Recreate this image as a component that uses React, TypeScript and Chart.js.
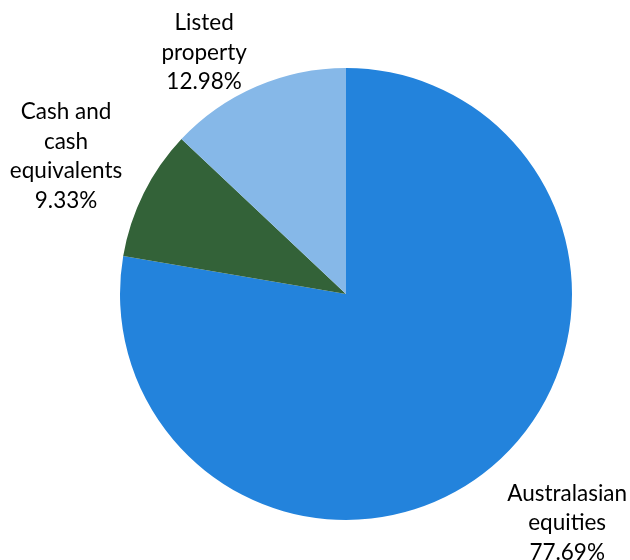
import React, { useEffect, useRef } from "react";
import { Chart, registerables } from "chart.js";

Chart.register(...registerables);

const categories: string[][] = [
  ["Australasian", "equities"],
  ["Cash and", "cash", "equivalents"],
  ["Listed", "property"],
];
const values: number[] = [77.69, 9.33, 12.98];
const colors: string[] = ["#2383DC", "#336238", "#86B8E8"];

const FONT = "22.5px Lato, 'Open Sans', sans-serif";
const LINE_H = 29.5;
const LABEL_GAP = 24;

const labelPlugin = {
  id: "outsideLabels",
  afterDraw(chart: any) {
    const ctx = chart.ctx as CanvasRenderingContext2D;
    const meta = chart.getDatasetMeta(0);
    ctx.save();
    ctx.font = FONT;
    ctx.fillStyle = "#000000";
    ctx.textBaseline = "middle";
    ctx.textAlign = "center";
    meta.data.forEach((arc: any, i: number) => {
      const { x, y, startAngle, endAngle, outerRadius } = arc.getProps(
        ["x", "y", "startAngle", "endAngle", "outerRadius"],
        true
      );
      const mid = (startAngle + endAngle) / 2;
      const c = Math.cos(mid);
      const s = Math.sin(mid);
      const ax = x + (outerRadius + LABEL_GAP) * c;
      const ay = y + (outerRadius + LABEL_GAP) * s;
      const lines = [...categories[i], values[i].toFixed(2) + "%"];
      const w = Math.max(...lines.map((l) => ctx.measureText(l).width));
      const h = lines.length * LINE_H;
      const cx = c < 0 ? ax - w / 2 : ax + w / 2;
      let cy = ay + (s * h) / 2 + (s > 0 ? 4 : 0);
      if (cy - h / 2 < 8) cy = 8 + h / 2;
      lines.forEach((l, k) => {
        ctx.fillText(l, cx, cy - h / 2 + LINE_H * (k + 0.5));
      });
    });
    ctx.restore();
  },
};

export default function App() {
  const ref = useRef<HTMLCanvasElement | null>(null);
  useEffect(() => {
    document.body.style.margin = "0";
    const chart = new Chart(ref.current as HTMLCanvasElement, {
      type: "pie",
      data: {
        labels: categories.map((c) => c.join(" ")),
        datasets: [
          {
            data: values,
            backgroundColor: colors,
            borderWidth: 0,
          },
        ],
      },
      options: {
        animation: false,
        responsive: false,
        layout: { padding: { left: 120, right: 58, top: 68, bottom: 40 } },
        plugins: {
          legend: { display: false },
          tooltip: { enabled: false },
        },
      },
      plugins: [labelPlugin],
    });
    return () => chart.destroy();
  }, []);
  return (
    <div style={{ width: 630, height: 560, background: "#fff" }}>
      <canvas ref={ref} width={630} height={560} />
    </div>
  );
}
